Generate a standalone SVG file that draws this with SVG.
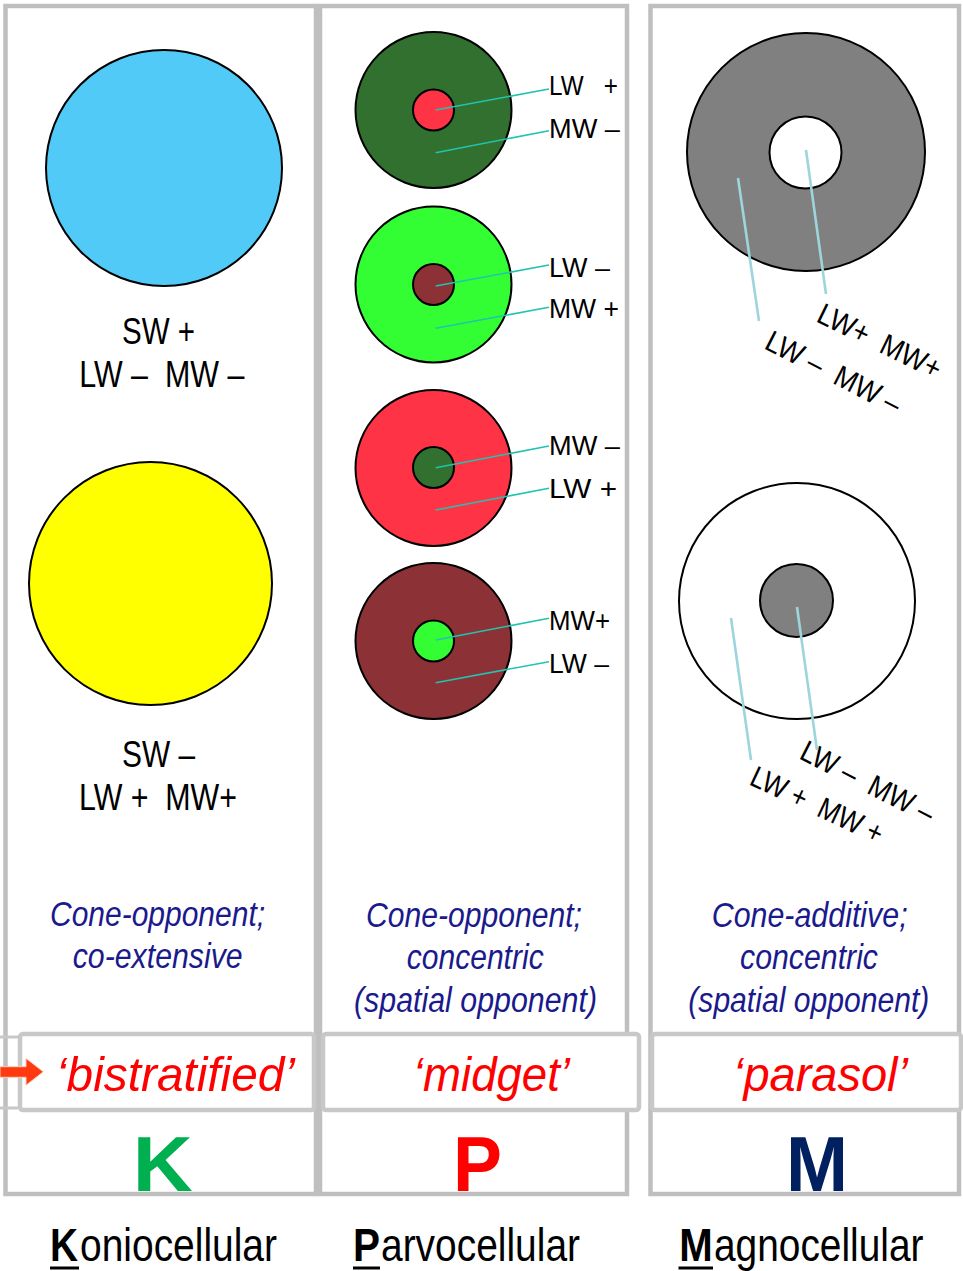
<svg xmlns="http://www.w3.org/2000/svg" width="963" height="1271" viewBox="0 0 963 1271" xml:space="preserve">
<defs>
<style>
text{white-space:pre}
.col{fill:#ffffff;stroke:#bfbfbf;stroke-width:4.5}
.box{fill:#ffffff;stroke:#c8c8c8;stroke-width:4.5}
.c{stroke:#000;stroke-width:2}
.t{font-family:"Liberation Sans",Arial,sans-serif;fill:#000}
.lab{font-family:"Liberation Sans",Arial,sans-serif;font-size:28px;fill:#000}
.rot{font-family:"Liberation Sans",Arial,sans-serif;font-size:30px;fill:#000}
.desc{font-family:"Liberation Sans",Arial,sans-serif;font-size:36px;font-style:italic;fill:#1a1a8c}
.red{font-family:"Liberation Sans",Arial,sans-serif;font-size:49px;font-style:italic;fill:#ff0000}
.big{font-family:"Liberation Sans",Arial,sans-serif;font-size:78px;font-weight:bold}
.name{font-family:"Liberation Sans",Arial,sans-serif;font-size:46px;fill:#000}
.pl{stroke:#20c4b0;stroke-width:1.6;fill:none}
.ml{stroke:#9dd5dc;stroke-width:2.6;fill:none}
</style>
</defs>
<rect width="963" height="1271" fill="#ffffff"/>

<g id="columns">
<rect class="col" x="5.5" y="6" width="310.5" height="1188"/>
<rect class="col" x="320" y="6" width="307" height="1188"/>
<rect class="col" x="650.5" y="6" width="308.5" height="1188"/>
<line x1="0" y1="1037" x2="18" y2="1037" stroke="#c8c8c8" stroke-width="3"/>
<line x1="0" y1="1108" x2="18" y2="1108" stroke="#c8c8c8" stroke-width="3"/>
</g>

<g id="k-sw-on">
<circle class="c" cx="164" cy="168" r="118" fill="#51caf7"/>
<text class="t" font-size="36" x="122" y="344" textLength="73" lengthAdjust="spacingAndGlyphs">SW +</text>
<text class="t" font-size="36" x="79.3" y="387" textLength="165" lengthAdjust="spacingAndGlyphs">LW –  MW –</text>
</g>

<g id="k-sw-off">
<circle class="c" cx="150.5" cy="583.5" r="121.5" fill="#ffff00"/>
<text class="t" font-size="36" x="122" y="767" textLength="73" lengthAdjust="spacingAndGlyphs">SW –</text>
<text class="t" font-size="36" x="79" y="810" textLength="158" lengthAdjust="spacingAndGlyphs">LW +  MW+</text>
</g>

<g id="p1">
<circle class="c" cx="433.5" cy="110" r="78" fill="#31702f"/>
<circle class="c" cx="433.5" cy="110" r="20.5" fill="#fe3446"/>
<text class="lab" x="549" y="95" textLength="69" lengthAdjust="spacingAndGlyphs">LW   +</text>
<text class="lab" x="549" y="138" textLength="71" lengthAdjust="spacingAndGlyphs">MW –</text>
</g>
<g id="p2">
<circle class="c" cx="433.5" cy="284.5" r="78" fill="#33fe33"/>
<circle class="c" cx="433.5" cy="284.5" r="20.5" fill="#8c3236"/>
<text class="lab" x="549" y="277" textLength="61" lengthAdjust="spacingAndGlyphs">LW –</text>
<text class="lab" x="549" y="317.5" textLength="70" lengthAdjust="spacingAndGlyphs">MW +</text>
</g>
<g id="p3">
<circle class="c" cx="433.5" cy="468" r="78" fill="#fe3446"/>
<circle class="c" cx="433.5" cy="467.5" r="20.5" fill="#31702f"/>
<text class="lab" x="549" y="455" textLength="71" lengthAdjust="spacingAndGlyphs">MW –</text>
<text class="lab" x="549" y="498.3" textLength="68" lengthAdjust="spacingAndGlyphs">LW +</text>
</g>
<g id="p4">
<circle class="c" cx="433.5" cy="641" r="78" fill="#8c3236"/>
<circle class="c" cx="433.5" cy="641" r="20.5" fill="#33fe33"/>
<text class="lab" x="549" y="630" textLength="61" lengthAdjust="spacingAndGlyphs">MW+</text>
<text class="lab" x="549" y="672.7" textLength="60" lengthAdjust="spacingAndGlyphs">LW –</text>
</g>

<g id="m-off-center">
<circle class="c" cx="806" cy="152" r="119" fill="#808080"/>
<circle class="c" cx="805.5" cy="152.5" r="36" fill="#ffffff"/>
<text class="rot" transform="translate(815,321) rotate(26)" textLength="134" lengthAdjust="spacingAndGlyphs">LW+  MW+</text>
<text class="rot" transform="translate(763,348) rotate(27)" textLength="148" lengthAdjust="spacingAndGlyphs">LW –  MW –</text>
</g>
<g id="m-on-center">
<circle class="c" cx="797" cy="601" r="118" fill="#ffffff"/>
<circle class="c" cx="796.5" cy="600.5" r="36.5" fill="#808080"/>
<text class="rot" transform="translate(798,758) rotate(27)" textLength="146" lengthAdjust="spacingAndGlyphs">LW –  MW –</text>
<text class="rot" transform="translate(748,784) rotate(25)" textLength="143" lengthAdjust="spacingAndGlyphs">LW +  MW +</text>
</g>

<g id="connectors">
<line class="pl" x1="435.7" y1="110" x2="549" y2="89"/>
<line class="pl" x1="435.7" y1="152.7" x2="549" y2="130.7"/>
<line class="pl" x1="435.7" y1="286" x2="549" y2="265"/>
<line class="pl" x1="435.7" y1="328.3" x2="549" y2="307.3"/>
<line class="pl" x1="435.7" y1="467.7" x2="549" y2="446"/>
<line class="pl" x1="435.7" y1="510" x2="549" y2="488.3"/>
<line class="pl" x1="435.7" y1="640" x2="549" y2="618.3"/>
<line class="pl" x1="435.7" y1="682.7" x2="549" y2="661.7"/>
<line class="ml" x1="738" y1="178" x2="759" y2="321"/>
<line class="ml" x1="806" y1="150" x2="826" y2="294"/>
<line class="ml" x1="731" y1="618" x2="751" y2="760"/>
<line class="ml" x1="797" y1="607" x2="817" y2="750"/>
</g>

<g id="k-desc">
<text class="desc" transform="translate(50,926) scale(0.84,1)" textLength="256" lengthAdjust="spacingAndGlyphs">Cone-opponent;</text>
<text class="desc" transform="translate(72.7,968) scale(0.84,1)" textLength="202.4" lengthAdjust="spacingAndGlyphs">co-extensive</text>
</g>
<g id="p-desc">
<text class="desc" transform="translate(366,926.7) scale(0.84,1)" textLength="257.1" lengthAdjust="spacingAndGlyphs">Cone-opponent;</text>
<text class="desc" transform="translate(406.7,969.3) scale(0.84,1)" textLength="163.1" lengthAdjust="spacingAndGlyphs">concentric</text>
<text class="desc" transform="translate(354,1011.7) scale(0.84,1)" textLength="289.3" lengthAdjust="spacingAndGlyphs">(spatial opponent)</text>
</g>
<g id="m-desc">
<text class="desc" transform="translate(711.7,926.7) scale(0.84,1)" textLength="233.3" lengthAdjust="spacingAndGlyphs">Cone-additive;</text>
<text class="desc" transform="translate(740,969.3) scale(0.84,1)" textLength="164.3" lengthAdjust="spacingAndGlyphs">concentric</text>
<text class="desc" transform="translate(688.3,1011.7) scale(0.84,1)" textLength="286.9" lengthAdjust="spacingAndGlyphs">(spatial opponent)</text>
</g>

<g id="k-type">
<rect class="box" x="20" y="1034" width="294" height="76" rx="3"/>
<text class="red" x="56" y="1091" textLength="239" lengthAdjust="spacingAndGlyphs">‘bistratified’</text>
</g>
<g id="p-type">
<rect class="box" x="323" y="1034" width="316" height="76" rx="3"/>
<text class="red" x="413" y="1091" textLength="157" lengthAdjust="spacingAndGlyphs">‘midget’</text>
</g>
<g id="m-type">
<rect class="box" x="652" y="1034" width="309" height="76" rx="3"/>
<text class="red" x="733" y="1091" textLength="175" lengthAdjust="spacingAndGlyphs">‘parasol’</text>
</g>

<g id="arrow">
<path d="M0 1066.7 H26 V1058.3 L43.3 1071.8 L26 1085.3 V1077.3 H0 Z" fill="#ff3a10" stroke="#ffd0c0" stroke-width="1"/>
</g>

<g id="k-letter">
<text class="big" x="132.7" y="1190.7" fill="#00b050" textLength="60" lengthAdjust="spacingAndGlyphs">K</text>
</g>
<g id="p-letter">
<text class="big" x="453" y="1190.7" fill="#ff0000" textLength="49" lengthAdjust="spacingAndGlyphs">P</text>
</g>
<g id="m-letter">
<text class="big" x="786" y="1190.7" fill="#002060" textLength="62" lengthAdjust="spacingAndGlyphs">M</text>
</g>

<g id="k-name">
<text class="name" font-weight="bold" x="50" y="1261" textLength="28" lengthAdjust="spacingAndGlyphs">K</text>
<text class="name" x="80" y="1261" textLength="197" lengthAdjust="spacingAndGlyphs">oniocellular</text>
<rect x="50" y="1266.5" width="29" height="3" fill="#000"/>
</g>
<g id="p-name">
<text class="name" font-weight="bold" x="353" y="1261" textLength="27" lengthAdjust="spacingAndGlyphs">P</text>
<text class="name" x="381" y="1261" textLength="199" lengthAdjust="spacingAndGlyphs">arvocellular</text>
<rect x="353" y="1266.5" width="27" height="3" fill="#000"/>
</g>
<g id="m-name">
<text class="name" font-weight="bold" x="679.3" y="1261" textLength="33.5" lengthAdjust="spacingAndGlyphs">M</text>
<text class="name" x="714" y="1261" textLength="209.5" lengthAdjust="spacingAndGlyphs">agnocellular</text>
<rect x="678.5" y="1266.5" width="34.5" height="3" fill="#000"/>
</g>
</svg>
